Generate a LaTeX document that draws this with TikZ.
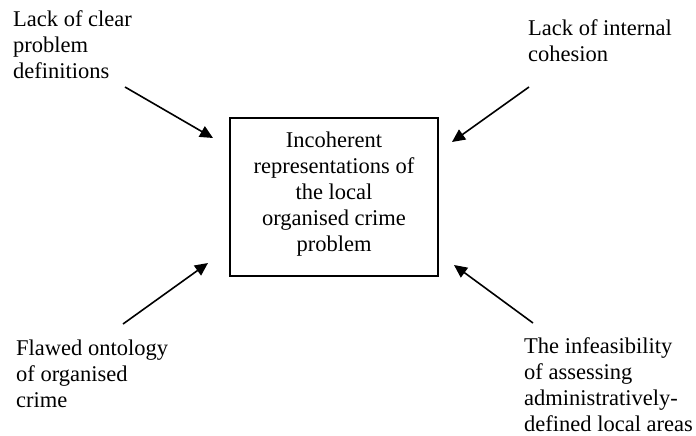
\documentclass[tikz,border=0pt]{standalone}
\usepackage{fontspec}
\setmainfont{Liberation Serif}
\usetikzlibrary{arrows.meta}
\begin{document}
\begin{tikzpicture}[x=1pt,y=-1pt,
  label/.style={inner sep=0pt,font=\fontsize{22.5}{26}\selectfont},
  cause/.style={line width=1.6pt,-{Triangle[length=13pt,width=12pt]}},
  centre/.style={draw,line width=1.3pt,inner sep=0pt,minimum width=208pt,minimum height=158pt}]
\useasboundingbox (0,0) rectangle (696,436);
% central problem box
\node[centre] (box) at (334,197) {};
% multi-line labels are placed by the baseline of their last line
\node[label,align=center,anchor=base] (boxtext) at (334,251)
  {Incoherent\\representations of\\the local\\organised crime\\problem};
% contributing factors
\node[label,align=left,anchor=base west] (tl) at (13,78)
  {Lack of clear\\problem\\definitions};
\node[label,align=left,anchor=base west] (tr) at (528,62)
  {Lack of internal\\cohesion};
\node[label,align=left,anchor=base west] (bl) at (16,407)
  {Flawed ontology\\of organised\\crime};
\node[label,align=left,anchor=base west] (br) at (524,431)
  {The infeasibility\\of assessing\\administratively-\\defined local areas};
% arrow start and end points
\coordinate (tlA) at (125,87);  \coordinate (tlB) at (213,138);
\coordinate (trA) at (529,87);  \coordinate (trB) at (452,142);
\coordinate (blA) at (123,324); \coordinate (blB) at (208,263);
\coordinate (brA) at (533,323); \coordinate (brB) at (454,265);
\draw[cause] (tlA) -- (tlB);
\draw[cause] (trA) -- (trB);
\draw[cause] (blA) -- (blB);
\draw[cause] (brA) -- (brB);
\end{tikzpicture}
\end{document}
